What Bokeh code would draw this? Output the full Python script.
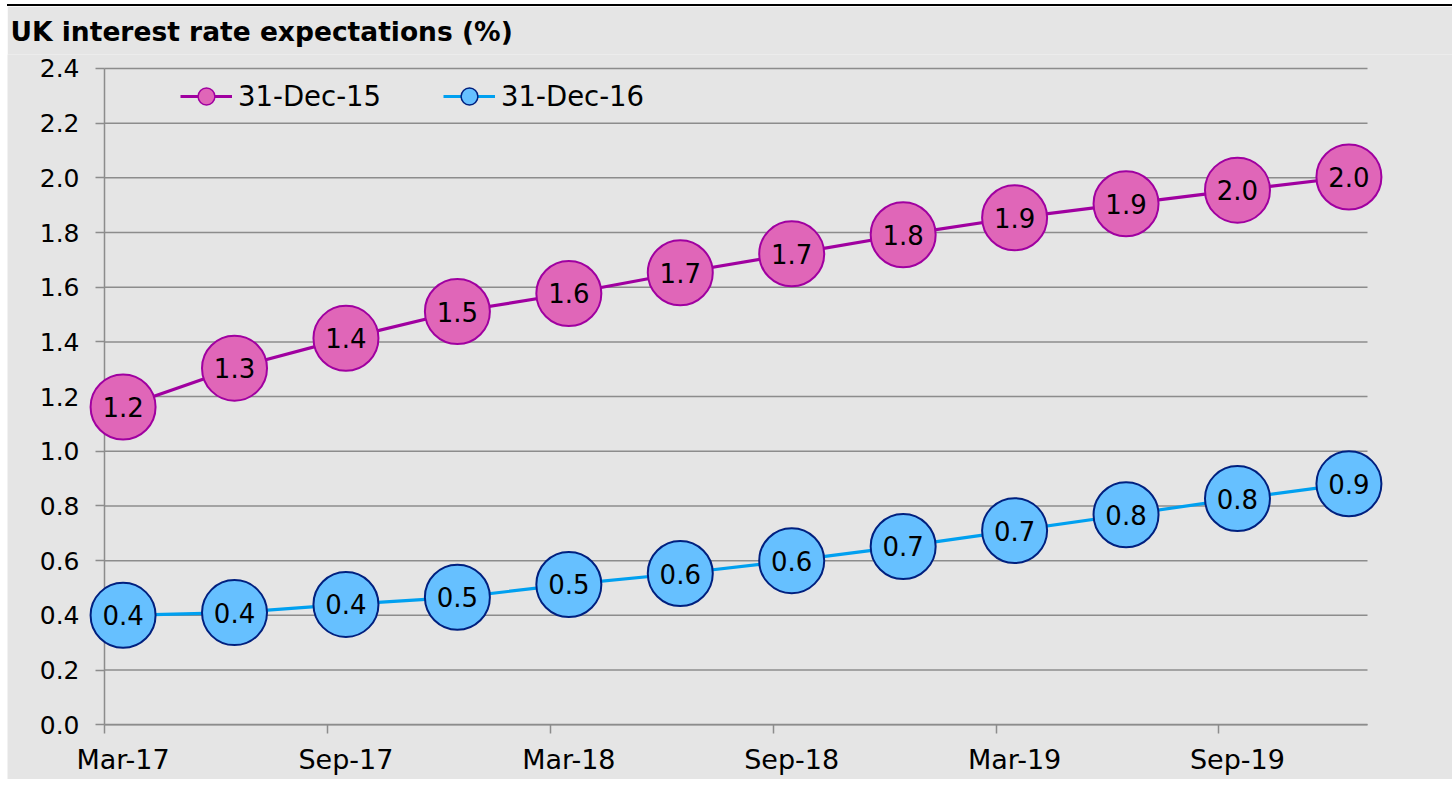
from bokeh.plotting import figure
from bokeh.models import ColumnDataSource, FixedTicker, Legend, LegendItem, NumeralTickFormatter
from bokeh.core.properties import value
from bokeh.embed import file_html
from bokeh.resources import INLINE

# ---- data -------------------------------------------------------------
quarters = ["Mar-17", "Jun-17", "Sep-17", "Dec-17", "Mar-18", "Jun-18",
            "Sep-18", "Dec-18", "Mar-19", "Jun-19", "Sep-19", "Dec-19"]
dec15 = [1.162, 1.304, 1.413, 1.511, 1.577, 1.653, 1.722, 1.792, 1.854, 1.905, 1.955, 2.003]
dec16 = [0.400, 0.410, 0.440, 0.466, 0.513, 0.553, 0.600, 0.652, 0.710, 0.768, 0.827, 0.881]
series_names = ["31-Dec-15", "31-Dec-16"]
y_ticks = [0.0, 0.2, 0.4, 0.6, 0.8, 1.0, 1.2, 1.4, 1.6, 1.8, 2.0, 2.2, 2.4]
x_tick_labels = ["Mar-17", "Sep-17", "Mar-18", "Sep-18", "Mar-19", "Sep-19"]
title_text = "UK interest rate expectations (%)"

# ---- styling ----------------------------------------------------------
BG = "#e5e5e5"
GRID = "#8c8c8c"
FONT = "DejaVu Sans"
PINK_FILL, PINK_LINE = "#e066b8", "#a000a0"
BLUE_FILL, BLUE_LINE, BLUE_EDGE = "#66c0ff", "#00a0f0", "#00207f"

# axis spans months from start of Mar-17 to start of Jan-20; quarters plotted mid-month
AXIS_END = 34
Y_MIN, Y_MAX = 0.0, 2.4
month_pos = [quarters.index(q) * 3 + 0.5 for q in quarters]
label_pos = [quarters.index(q) * 3 + 0.5 for q in x_tick_labels]
bound_pos = [quarters.index(q) * 3 for q in x_tick_labels]

src15 = ColumnDataSource(dict(x=month_pos, y=dec15, t=[f"{v:.1f}" for v in dec15]))
src16 = ColumnDataSource(dict(x=month_pos, y=dec16, t=[f"{v:.1f}" for v in dec16]))

# ---- layout (pixels inside the canvas) --------------------------------
W, H = 1445, 775
TOP = 45                  # frame top; frame fills the rest of the canvas
AX_X, AX_W = 97, 1263     # axis area: left edge and width
AX_TOP, AX_BOT = 59, 718  # y of Y_MAX and Y_MIN
ppm = AX_W / AXIS_END
ppu = (AX_BOT - AX_TOP) / (Y_MAX - Y_MIN)
x_range = (-AX_X / ppm, (W - AX_X) / ppm)
y_range = (Y_MIN - (H - AX_BOT) / ppu, Y_MAX + (AX_TOP - TOP) / ppu)

p = figure(width=W, height=H, x_range=x_range, y_range=y_range,
           output_backend="svg", toolbar_location=None,
           min_border_left=0, min_border_right=0, min_border_top=TOP, min_border_bottom=0)
p.background_fill_color = BG
p.border_fill_color = BG
p.outline_line_color = None

p.title.text = title_text
p.title.text_font = FONT
p.title.text_font_style = "bold"
p.title.text_font_size = "26.5px"
p.title.align = "left"
p.title.offset = 3
p.title.standoff = 15
p.title.text_color = "black"

# grid lines (drawn from the y-axis to the right end of the x-axis)
p.xgrid.grid_line_color = None
p.ygrid.grid_line_color = None
p.segment(x0=[0] * len(y_ticks), x1=[AXIS_END] * len(y_ticks), y0=y_ticks, y1=y_ticks,
          line_color=GRID, line_width=1.5)

# y axis, anchored at month 0
p.yaxis.fixed_location = 0
p.yaxis.bounds = (Y_MIN, Y_MAX)
p.yaxis.ticker = FixedTicker(ticks=y_ticks)
p.yaxis.formatter = NumeralTickFormatter(format="0.0")
p.yaxis.axis_line_color = GRID
p.yaxis.axis_line_width = 1.5
p.yaxis.major_tick_line_color = GRID
p.yaxis.major_tick_line_width = 1.5
p.yaxis.major_tick_in = 0
p.yaxis.major_tick_out = 9
p.yaxis.minor_tick_line_color = None
p.yaxis.major_label_text_font = FONT
p.yaxis.major_label_text_font_size = "25px"
p.yaxis.major_label_text_color = "black"
p.yaxis.major_label_standoff = 16

# x axis, anchored at 0
p.xaxis.fixed_location = 0
p.xaxis.bounds = (0, AXIS_END)
p.xaxis.ticker = FixedTicker(ticks=label_pos, minor_ticks=bound_pos)
p.xaxis.major_label_overrides = {pos: lab for pos, lab in zip(label_pos, x_tick_labels)}
p.xaxis.axis_line_color = GRID
p.xaxis.axis_line_width = 1.5
p.xaxis.major_tick_line_color = None
p.xaxis.major_tick_in = 0
p.xaxis.major_tick_out = 9
p.xaxis.minor_tick_line_color = GRID
p.xaxis.minor_tick_line_width = 1.5
p.xaxis.minor_tick_in = 0
p.xaxis.minor_tick_out = 9
p.xaxis.major_label_text_font = FONT
p.xaxis.major_label_text_font_size = "27px"
p.xaxis.major_label_text_color = "black"
p.xaxis.major_label_standoff = 10

# series (drawn above the axis line)
for r in (p.line("x", "y", source=src15, line_color=PINK_LINE, line_width=3.2),
          p.line("x", "y", source=src16, line_color=BLUE_LINE, line_width=3.2),
          p.scatter("x", "y", source=src15, size=65, fill_color=PINK_FILL, line_color=PINK_LINE, line_width=2),
          p.scatter("x", "y", source=src16, size=65, fill_color=BLUE_FILL, line_color=BLUE_EDGE, line_width=2)):
    r.level = "annotation"
for s in (src15, src16):
    t = p.text("x", "y", text="t", source=s, text_align="center", text_baseline="middle",
               text_font=value(FONT), text_font_size="26px", text_color="black")
    t.level = "annotation"

# legend (separate renderers so legend glyphs are small)
nan = float("nan")
leg15 = ColumnDataSource(dict(x=[nan], y=[nan]))
leg16 = ColumnDataSource(dict(x=[nan], y=[nan]))
lg1 = p.line("x", "y", source=leg15, line_color=PINK_LINE, line_width=3.2)
sg1 = p.scatter("x", "y", source=leg15, size=17, fill_color=PINK_FILL, line_color=PINK_LINE, line_width=1.5)
lg2 = p.line("x", "y", source=leg16, line_color=BLUE_LINE, line_width=3.2)
sg2 = p.scatter("x", "y", source=leg16, size=17, fill_color=BLUE_FILL, line_color=BLUE_EDGE, line_width=1.5)

LEG_H = 42
legend = Legend(items=[LegendItem(label=series_names[0], renderers=[lg1, sg1]),
                       LegendItem(label=series_names[1], renderers=[lg2, sg2])],
                orientation="horizontal", location=(173, (H - TOP) - 24 - LEG_H),
                background_fill_alpha=0, border_line_color=None,
                padding=0, margin=0, spacing=62,
                glyph_width=52, glyph_height=LEG_H, label_height=LEG_H, label_standoff=6,
                label_text_font=FONT, label_text_font_size="27.5px", label_text_color="black")
p.add_layout(legend)

p.styles = {"margin-left": "7px", "margin-top": "4px", "border-top": "2px solid black"}

open("out.html", "w").write(file_html(p, INLINE))
